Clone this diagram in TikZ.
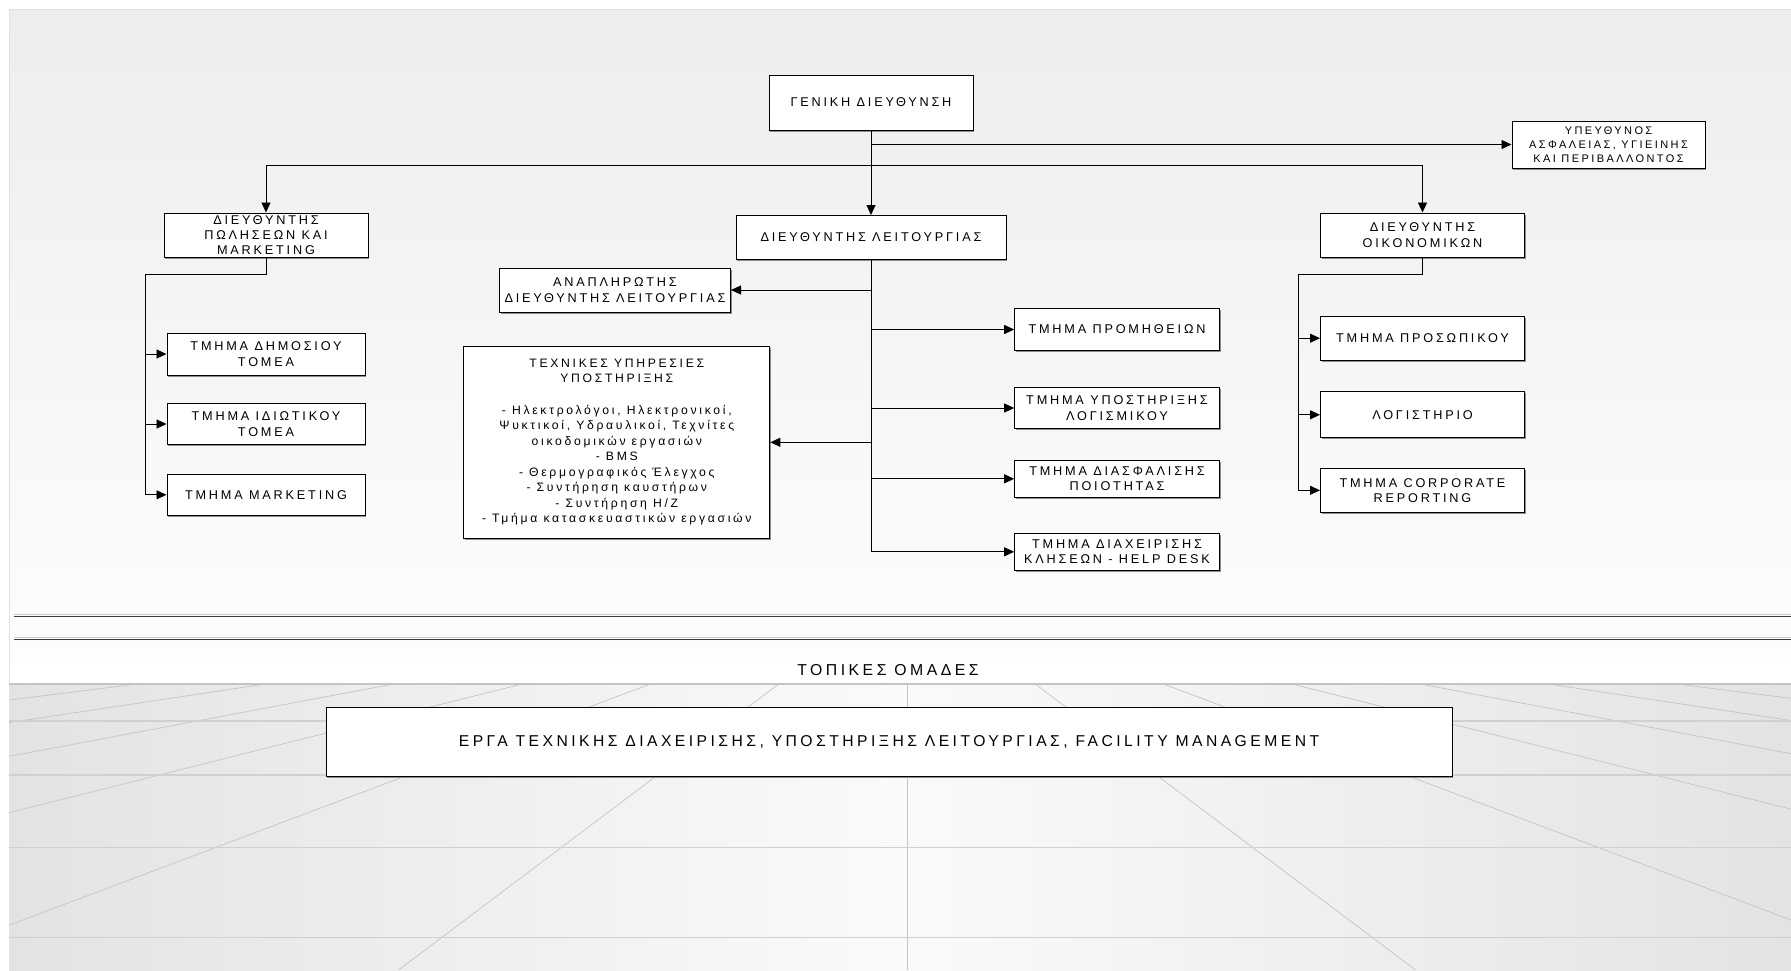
\documentclass[tikz,border=0pt]{standalone}
\usepackage{fontspec}
\setmainfont{Liberation Sans}[LetterSpace=22]
\usetikzlibrary{arrows.meta,shadows}
\definecolor{bgtop}{HTML}{EDEDED}
\definecolor{bgbot}{HTML}{FDFDFD}
\definecolor{flooredge}{HTML}{E3E3E3}
\definecolor{floormid}{HTML}{FAFAFA}
\definecolor{gridcol}{HTML}{C4C4C4}
\definecolor{sepline}{HTML}{3A3A3A}
\tikzset{
  bx/.style={draw=black, line width=1pt, fill=white, inner sep=0pt, align=center,
    font=\fontsize{12.7}{15.3}\selectfont,
    drop shadow={shadow xshift=1.2pt, shadow yshift=-1.5pt, fill=black!45, opacity=1}},
  arr/.style={draw=black, line width=0.9pt, -{Triangle[length=10pt,width=9pt]}},
  lnk/.style={draw=black, line width=0.9pt},
  gridl/.style={draw=gridcol, line width=0.7pt},
  gridh/.style={draw=gridcol!80, line width=1.3pt}
}
\begin{document}
\begin{tikzpicture}[x=1pt,y=-1pt]
\useasboundingbox (0,0) rectangle (1791,970);
% backgrounds
\shade[top color=bgtop, bottom color=bgbot] (9,9) rectangle (1791,663);
\fill[white] (9,663) rectangle (1791,684);
\draw[black!12, line width=0.8pt] (9,684) -- (9,9) -- (1791,9);
\shade[left color=flooredge, right color=flooredge, middle color=floormid] (9,684) rectangle (1791,970);
\begin{scope}
  \clip (9,684) rectangle (1791,970);
  \foreach \k in {-8,...,8}
    \draw[gridl] ({907+128.3*\k},684) -- ({907+508.6*\k},970);
  \foreach \yy in {721,775,847.3,937.7}
    \draw[gridh] (9,\yy) -- (1791,\yy);
\end{scope}
\draw[gridcol, line width=1.8pt] (9,684) -- (1791,684);
% separator lines
\draw[black!20, line width=0.8pt] (14,614.5) -- (1791,614.5);
\draw[sepline, line width=1pt] (14,616) -- (1791,616);
\draw[black!20, line width=0.8pt] (14,637.5) -- (1791,637.5);
\draw[sepline, line width=1pt] (14,639) -- (1791,639);

% nodes
\node[bx, minimum width=204, minimum height=55] (gen) at (871,102.5) {ΓΕΝΙΚΗ ΔΙΕΥΘΥΝΣΗ};
\node[bx, minimum width=193, minimum height=47, font=\fontsize{11}{14}\selectfont] (saf) at (1608.5,144.5) {ΥΠΕΥΘΥΝΟΣ\\ΑΣΦΑΛΕΙΑΣ, ΥΓΙΕΙΝΗΣ\\ΚΑΙ ΠΕΡΙΒΑΛΛΟΝΤΟΣ};
\node[bx, minimum width=204, minimum height=44] (pol) at (266,235) {ΔΙΕΥΘΥΝΤΗΣ\\ΠΩΛΗΣΕΩΝ ΚΑΙ\\MARKETING};
\node[bx, minimum width=270, minimum height=44] (lei) at (871,237.5) {ΔΙΕΥΘΥΝΤΗΣ ΛΕΙΤΟΥΡΓΙΑΣ};
\node[bx, minimum width=204, minimum height=44] (oik) at (1422.5,235) {ΔΙΕΥΘΥΝΤΗΣ\\ΟΙΚΟΝΟΜΙΚΩΝ};
\node[bx, minimum width=231, minimum height=44] (anap) at (615,290) {ΑΝΑΠΛΗΡΩΤΗΣ\\ΔΙΕΥΘΥΝΤΗΣ ΛΕΙΤΟΥΡΓΙΑΣ};
\node[bx, minimum width=198, minimum height=42] (dim) at (266,354) {ΤΜΗΜΑ ΔΗΜΟΣΙΟΥ\\ΤΟΜΕΑ};
\node[bx, minimum width=198, minimum height=41] (idi) at (266,424) {ΤΜΗΜΑ ΙΔΙΩΤΙΚΟΥ\\ΤΟΜΕΑ};
\node[bx, minimum width=198, minimum height=41] (mark) at (266,494.8) {ΤΜΗΜΑ MARKETING};
\node[bx, minimum width=306, minimum height=192, font=\fontsize{12.2}{15.5}\selectfont] (tech) at (616.8,442.3) {ΤΕΧΝΙΚΕΣ ΥΠΗΡΕΣΙΕΣ\\ΥΠΟΣΤΗΡΙΞΗΣ\\[16pt] - Ηλεκτρολόγοι, Ηλεκτρονικοί,\\Ψυκτικοί, Υδραυλικοί, Τεχνίτες\\οικοδομικών εργασιών\\- BMS\\- Θερμογραφικός Έλεγχος\\- Συντήρηση καυστήρων\\- Συντήρηση Η/Ζ\\- Τμήμα κατασκευαστικών εργασιών};
\node[bx, minimum width=204.6, minimum height=42.4] (prom) at (1117,329.5) {ΤΜΗΜΑ ΠΡΟΜΗΘΕΙΩΝ};
\node[bx, minimum width=204.6, minimum height=41.4] (ypo) at (1117,408) {ΤΜΗΜΑ ΥΠΟΣΤΗΡΙΞΗΣ\\ΛΟΓΙΣΜΙΚΟΥ};
\node[bx, minimum width=204.6, minimum height=37] (dias) at (1117,478.8) {ΤΜΗΜΑ ΔΙΑΣΦΑΛΙΣΗΣ\\ΠΟΙΟΤΗΤΑΣ};
\node[bx, minimum width=204.6, minimum height=37] (diax) at (1117,551.8) {ΤΜΗΜΑ ΔΙΑΧΕΙΡΙΣΗΣ\\ΚΛΗΣΕΩΝ - HELP DESK};
\node[bx, minimum width=204, minimum height=43.7] (pros) at (1422.5,338.2) {ΤΜΗΜΑ ΠΡΟΣΩΠΙΚΟΥ};
\node[bx, minimum width=204, minimum height=45.7] (logi) at (1422.5,414.8) {ΛΟΓΙΣΤΗΡΙΟ};
\node[bx, minimum width=204, minimum height=44] (corp) at (1422.5,490.3) {ΤΜΗΜΑ CORPORATE\\REPORTING};
\node[font=\fontsize{15.8}{18}\selectfont, inner sep=0pt] (topt) at (888,670) {ΤΟΠΙΚΕΣ ΟΜΑΔΕΣ};
\node[bx, minimum width=1126, minimum height=69, font=\fontsize{15.7}{18}\selectfont] (erga) at (889,742.2) {ΕΡΓΑ ΤΕΧΝΙΚΗΣ ΔΙΑΧΕΙΡΙΣΗΣ, ΥΠΟΣΤΗΡΙΞΗΣ ΛΕΙΤΟΥΡΓΙΑΣ, FACILITY MANAGEMENT};

% connector junctions
\coordinate (bus) at (gen.south |- 0,165.3);
\coordinate (polbus) at (145,274);
\coordinate (oikbus) at (1298,274);

% connectors
\draw[arr] (gen.south) -- (lei.north);
\draw[arr] (gen.south) |- (saf.west);
\draw[arr] (bus) -| (pol.north);
\draw[arr] (bus) -| (oik.north);

\draw[lnk] (pol.south) |- (polbus);
\draw[arr] (polbus) |- (dim.west);
\draw[arr] (polbus) |- (idi.west);
\draw[arr] (polbus) |- (mark.west);

\draw[arr] (lei.south) |- (anap.east);
\draw[arr] (lei.south) |- (tech.east);
\draw[arr] (lei.south) |- (prom.west);
\draw[arr] (lei.south) |- (ypo.west);
\draw[arr] (lei.south) |- (dias.west);
\draw[arr] (lei.south) |- (diax.west);

\draw[lnk] (oik.south) |- (oikbus);
\draw[arr] (oikbus) |- (pros.west);
\draw[arr] (oikbus) |- (logi.west);
\draw[arr] (oikbus) |- (corp.west);
\end{tikzpicture}
\end{document}
